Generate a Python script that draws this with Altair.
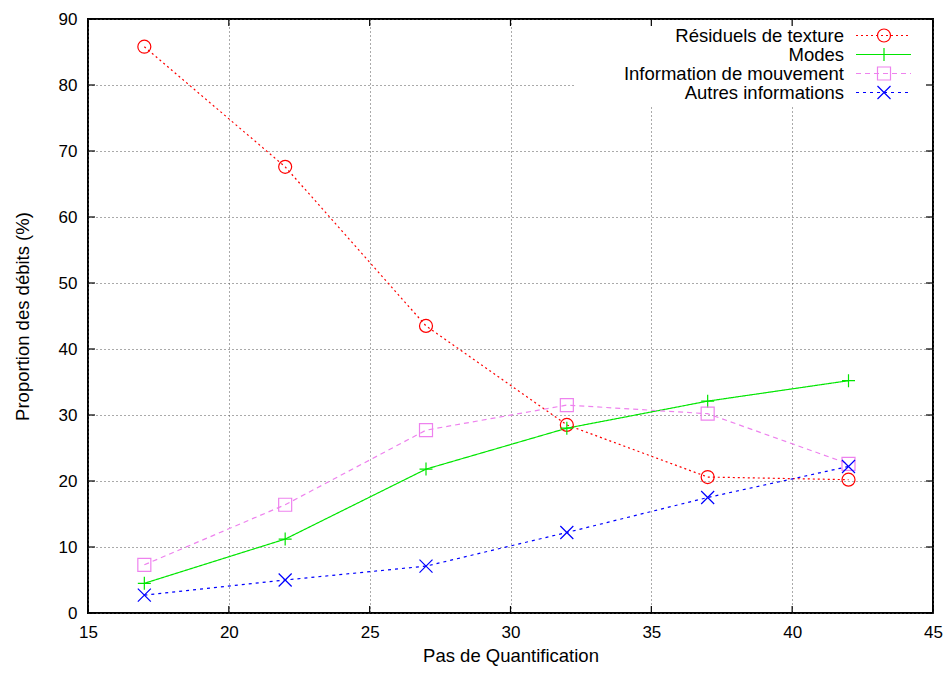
import altair as alt
import pandas as pd

# ---- data ----
x_vals = [17, 22, 27, 32, 37, 42]
residuels = [85.8, 67.6, 43.5, 28.5, 20.6, 20.2]
modes = [4.5, 11.2, 21.8, 28.0, 32.1, 35.2]
mouvement = [7.3, 16.4, 27.7, 31.5, 30.2, 22.6]
autres = [2.7, 5.0, 7.1, 12.2, 17.5, 22.2]
series_names = ["Résiduels de texture", "Modes", "Information de mouvement", "Autres informations"]
x_ticks = [15, 20, 25, 30, 35, 40, 45]
y_ticks = [0, 10, 20, 30, 40, 50, 60, 70, 80, 90]

# ---- styles ----
colors = ["#ff0000", "#00e600", "#ee82ee", "#0000ff"]
dashes = [[2, 3], [1, 0], [5, 4], [3, 4]]
shapes = ["circle", "M-1,0L1,0M0,-1L0,1", "square", "M-1,-1L1,1M1,-1L-1,1"]
FONT = "Liberation Sans"
W, H = 845, 594
TICK = 7

rows = []
for name, vals in zip(series_names, [residuels, modes, mouvement, autres]):
    for xv, yv in zip(x_vals, vals):
        rows.append({"serie": name, "x": xv, "y": yv})
df = pd.DataFrame(rows)

color_scale = alt.Scale(domain=series_names, range=colors)
dash_scale = alt.Scale(domain=series_names, range=dashes)
shape_scale = alt.Scale(domain=series_names, range=shapes)

xs = alt.Scale(domain=[15, 45], nice=False, zero=False)
ys = alt.Scale(domain=[0, 90], nice=False)

base = alt.Chart(df)

lines = base.mark_line(strokeWidth=1.2).encode(
    x=alt.X("x:Q", scale=xs, axis=alt.Axis(values=x_ticks, title="Pas de Quantification",
                                            labelPadding=11, titlePadding=6, labelFlush=False)),
    y=alt.Y("y:Q", scale=ys, axis=alt.Axis(values=y_ticks, title="Proportion des débits (%)",
                                            labelPadding=11, titlePadding=26, labelFlush=False)),
    color=alt.Color("serie:N", scale=color_scale, legend=None),
    strokeDash=alt.StrokeDash("serie:N", scale=dash_scale, legend=None),
    detail="serie:N",
)

points = base.mark_point(filled=False, size=169, strokeWidth=1.2, opacity=1).encode(
    x=alt.X("x:Q", scale=xs),
    y=alt.Y("y:Q", scale=ys),
    color=alt.Color("serie:N", scale=color_scale, legend=None),
    shape=alt.Shape("serie:N", scale=shape_scale, legend=None),
)

# white legend background hiding the grid
legend_bg = alt.Chart(pd.DataFrame({"a": [0]})).mark_rect(color="white").encode(
    x=alt.value(487), x2=alt.value(843), y=alt.value(1), y2=alt.value(86)
)

# inward ticks on all four sides (gnuplot style)
xt = pd.DataFrame({"t": x_ticks})
yt = pd.DataFrame({"t": y_ticks})
tick_bottom = alt.Chart(xt).mark_rule(color="black", strokeWidth=1.2).encode(
    x=alt.X("t:Q", scale=xs), y=alt.value(H), y2=alt.value(H - TICK))
tick_top = alt.Chart(xt).mark_rule(color="black", strokeWidth=1.2).encode(
    x=alt.X("t:Q", scale=xs), y=alt.value(0), y2=alt.value(TICK))
tick_left = alt.Chart(yt).mark_rule(color="black", strokeWidth=1.2).encode(
    y=alt.Y("t:Q", scale=ys), x=alt.value(0), x2=alt.value(TICK))
tick_right = alt.Chart(yt).mark_rule(color="black", strokeWidth=1.2).encode(
    y=alt.Y("t:Q", scale=ys), x=alt.value(W), x2=alt.value(W - TICK))

# manual gnuplot-style legend (label left, sample right)
leg_df = pd.DataFrame({"serie": series_names,
                       "ly": [16.5 + 19 * i for i in range(len(series_names))]})
leg = alt.Chart(leg_df)
leg_text = leg.mark_text(align="right", baseline="middle", font=FONT, fontSize=18.5,
                         color="black").encode(
    x=alt.value(756), y=alt.Y("ly:Q", scale=None, axis=None), text="serie:N")
leg_line = leg.mark_rule(strokeWidth=1.2).encode(
    x=alt.value(768), x2=alt.value(823), y=alt.Y("ly:Q", scale=None, axis=None),
    color=alt.Color("serie:N", scale=color_scale, legend=None),
    strokeDash=alt.StrokeDash("serie:N", scale=dash_scale, legend=None))
leg_pt = leg.mark_point(filled=False, size=169, strokeWidth=1.2, opacity=1).encode(
    x=alt.value(796), y=alt.Y("ly:Q", scale=None, axis=None),
    color=alt.Color("serie:N", scale=color_scale, legend=None),
    shape=alt.Shape("serie:N", scale=shape_scale, legend=None))

chart = alt.layer(
    lines, points, legend_bg, tick_bottom, tick_top, tick_left, tick_right,
    leg_text, leg_line, leg_pt
).properties(
    width=W, height=H,
    autosize=alt.AutoSizeParams(type="none"),
    padding={"left": 80, "top": 11, "right": 10, "bottom": 55},
).configure_view(
    stroke="black", strokeWidth=2
).configure_axis(
    grid=True, gridColor="#555555", gridDash=[1, 3], gridWidth=1, gridOpacity=1,
    ticks=False, domain=False,
    labelFont=FONT, labelFontSize=17, labelColor="black",
    titleFont=FONT, titleFontSize=18.5, titleFontWeight="normal", titleColor="black",
)

chart.save("out.html", embed_options={"renderer": "svg", "actions": False})
